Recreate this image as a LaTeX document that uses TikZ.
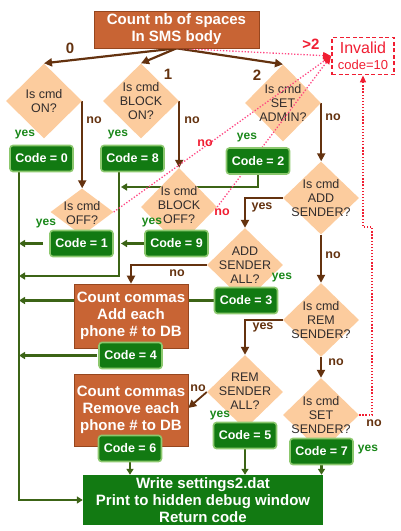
\documentclass[tikz,border=0pt]{standalone}
\usepackage{fontspec}
\setmainfont{Liberation Sans}
\usetikzlibrary{shapes.geometric,arrows.meta}
\definecolor{procfill}{RGB}{200,100,52}
\definecolor{procedge}{RGB}{150,70,30}
\definecolor{diafill}{RGB}{252,204,158}
\definecolor{codefill}{RGB}{18,122,18}
\definecolor{codeedge}{RGB}{140,200,110}
\definecolor{brn}{RGB}{100,50,15}
\definecolor{grn}{RGB}{60,100,22}
\definecolor{yesgreen}{RGB}{25,135,25}
\definecolor{dgray}{RGB}{50,45,45}
\definecolor{invred}{RGB}{240,30,50}
\definecolor{pinkdot}{RGB}{255,70,130}
\pgfdeclarelayer{conn}
\pgfdeclarelayer{dots}
\pgfdeclarelayer{top}
\pgfsetlayers{conn,main,dots,top}
\begin{document}
\begin{tikzpicture}[x=1pt,y=-1pt,
  dia/.style={diamond, fill=diafill, draw=none, inner sep=0pt, minimum width=76pt, minimum height=75pt},
  dtext/.style={text=dgray, font=\fontsize{12.5}{14}\selectfont, align=center, inner sep=0pt},
  codebox/.style={rounded corners=3pt, fill=codefill, draw=codeedge, line width=1.6pt, text=white,
     font=\bfseries\fontsize{12.5}{14}\selectfont, minimum width=63pt, minimum height=26pt, inner sep=0pt},
  procbox/.style={fill=procfill, draw=procedge, line width=0.6pt, text=white,
     font=\bfseries\fontsize{15}{17}\selectfont, align=center, inner sep=0pt},
  endbox/.style={fill=codefill, draw=none, text=white,
     font=\bfseries\fontsize{15}{17}\selectfont, align=center, inner sep=0pt},
  brarrow/.style={draw=brn, line width=2.2pt, -{Triangle[length=8pt,width=8pt]}},
  grarrow/.style={draw=grn, line width=2.2pt, -{Triangle[length=6pt,width=7pt]}},
  pinkline/.style={draw=pinkdot, line width=1.3pt, dash pattern=on 1.3pt off 1.8pt,
     -{Triangle[length=8pt,width=7pt,color=invred]}},
  redline/.style={draw=invred, line width=1.3pt, dash pattern=on 1.3pt off 1.8pt,
     -{Triangle[length=7pt,width=6pt,color=invred]}},
  nolab/.style={text=brn, font=\bfseries\fontsize{12.5}{14}\selectfont, inner sep=0pt},
  rednolab/.style={text=invred, font=\bfseries\fontsize{12.5}{14}\selectfont, inner sep=0pt},
  yeslab/.style={text=yesgreen, font=\bfseries\fontsize{12}{14}\selectfont, inner sep=0pt},
  brylab/.style={text=brn, font=\bfseries\fontsize{12.5}{14}\selectfont, inner sep=0pt},
  numlab/.style={text=brn, font=\bfseries\fontsize{15}{17}\selectfont, inner sep=0pt}
]
\useasboundingbox (0,0) rectangle (400,531);

% ---------- diamonds ----------
\node[dia] (d0) at (44,101) {};
\node[dtext] (d0t) at (44,101) {Is cmd\\ON?};
\node[dia] (d8) at (141,101) {};
\node[dtext] (d8t) at (141,101) {Is cmd\\BLOCK\\ON?};
\node[dia, minimum height=77pt] (d2) at (283,103) {};
\node[dtext] (d2t) at (283,103) {Is cmd\\SET\\ADMIN?};
\node[dia, minimum width=63pt, minimum height=47pt] (d1) at (82,212) {};
\node[dtext] (d1t) at (82,213) {Is cmd\\OFF?};
\node[dia, minimum height=78pt] (d9) at (179,207) {};
\node[dtext] (d9t) at (179,205.5) {Is cmd\\BLOCK\\OFF?};
\node[dia, minimum height=73pt] (dAS) at (321,198) {};
\node[dtext] (dASt) at (321,198) {Is cmd\\ADD\\SENDER?};
\node[dia, minimum height=74pt] (dASA) at (245,265) {};
\node[dtext] (dASAt) at (245,265) {ADD\\SENDER\\ALL?};
\node[dia, minimum height=74pt] (dRS) at (321,320) {};
\node[dtext] (dRSt) at (321,320) {Is cmd\\REM\\SENDER?};
\node[dia, minimum height=74pt] (dRSA) at (245,392) {};
\node[dtext] (dRSAt) at (245,391) {REM\\SENDER\\ALL?};
\node[dia, minimum height=74pt] (dSS) at (321,415) {};
\node[dtext] (dSSt) at (321,415) {Is cmd\\SET\\SENDER?};

% ---------- boxes (top layer) ----------
\begin{pgfonlayer}{top}
\node[procbox, minimum width=165pt, minimum height=37pt] (title) at (176.5,29.5) {Count nb of spaces\\In SMS body};
\node[draw=invred, dash pattern=on 4pt off 2.5pt, line width=1.8pt, minimum width=62pt, minimum height=37pt,
      align=center, text=invred, inner sep=0pt, font=\fontsize{13}{15.5}\selectfont] (inv) at (363,56)
      {{\fontsize{16}{15.5}\selectfont Invalid}\\code=10};
\node[codebox] (c0) at (41.5,158.5) {Code = 0};
\node[codebox] (c8) at (132.5,158.5) {Code = 8};
\node[codebox] (c2) at (258,161) {Code = 2};
\node[codebox] (c1) at (81.5,243.5) {Code = 1};
\node[codebox] (c9) at (176.5,243.5) {Code = 9};
\node[procbox, minimum width=114pt, minimum height=64pt] (pAdd) at (131,316) {Count commas\\Add each\\phone \# to DB};
\node[codebox] (c3) at (246,300.5) {Code = 3};
\node[codebox] (c4) at (130.5,355.5) {Code = 4};
\node[procbox, minimum width=114pt, minimum height=72pt] (pRem) at (131,410) {Count commas\\Remove each\\phone \# to DB};
\node[codebox] (c6) at (130,448.5) {Code = 6};
\node[codebox] (c5) at (245,435.5) {Code = 5};
\node[codebox] (c7) at (321.5,451.5) {Code = 7};
\node[endbox, minimum width=240pt, minimum height=50pt] (bot) at (203,500) {Write settings2.dat\\Print to hidden debug window\\Return code};

% labels
\node[numlab] (l0) at (70,48) {0};
\node[numlab] (l1) at (168,74) {1};
\node[numlab] (l2) at (257,75) {2};
\node[text=invred, font=\bfseries\fontsize{15}{17}\selectfont, inner sep=0pt] (lgt) at (311,44) {>2};
\node[nolab] (n0) at (94,120) {no};
\node[nolab] (n8) at (192,120) {no};
\node[nolab] (n2) at (333,117) {no};
\node[nolab] (nAS) at (333,255) {no};
\node[nolab] (nRS) at (336,362) {no};
\node[nolab] (nASA) at (177,273) {no};
\node[nolab] (nRSA) at (198,388) {no};
\node[nolab] (nSS) at (374,423) {no};
\node[rednolab] (n1) at (205,143) {no};
\node[rednolab] (n9) at (222,212) {no};
\node[yeslab] (y0) at (25,135) {yes};
\node[yeslab] (y8) at (118,135) {yes};
\node[yeslab] (y2) at (247,138) {yes};
\node[yeslab] (y1) at (46,224) {yes};
\node[yeslab] (y9) at (152,223) {yes};
\node[yeslab] (yASA) at (282,278) {yes};
\node[yeslab] (yRSA) at (220,416) {yes};
\node[yeslab] (ySS) at (368,450) {yes};
\node[brylab] (yAS) at (262,207) {yes};
\node[brylab] (yRS) at (263,327) {yes};
\end{pgfonlayer}

% ---------- helper coordinates ----------
\coordinate (m0) at (19,172);
\coordinate (m8) at (119,172);
\coordinate (j8) at (19,276);
\coordinate (j2) at (121,187);
\coordinate (r1) at (372,227);
\coordinate (r2) at (363,227);

% ---------- connectors (bottom layer) ----------
\begin{pgfonlayer}{conn}
\draw[brarrow] (title.south) -- (d0.north);
\draw[brarrow] (title.south) -- (d8.north);
\draw[brarrow] (title.south) -- (d2.north);
\draw[brarrow] (d0.east) -- (d0.east |- d1.north);
\draw[brarrow] (d8.east) -- (d8.east |- d9.north);
\draw[brarrow] (d2.east) -- (d2.east |- dAS.north);
\draw[brarrow] (dAS.south) -- (dRS.north);
\draw[brarrow] (dRS.south) -- (dSS.north);
\draw[brarrow] (dAS.west) -| (dASA.north);
\draw[brarrow] (dRS.west) -| (dRSA.north);
\draw[brarrow] (dASA.west) -| (pAdd.north);
\draw[brarrow, line width=1.8pt] (dRSA.west) -- ([yshift=2pt]pRem.east);

\draw[grarrow] (m0) |- (bot.west);
\draw[grarrow] (m8) |- (j8);
\draw[grarrow] (c2.south) |- (j2);
\draw[grarrow] ([xshift=-6pt]c1.west) -- (c1.west -| m0);
\draw[grarrow] (c9.west) -- ([xshift=2pt]c9.west -| m8);
\draw[grarrow] (c3.west) -- (c3.west -| m0);
\draw[grarrow] ([xshift=-1pt]c4.west) -- (c4.west -| m0);
\draw[grarrow] (c6.south) -- (c6.south |- bot.north);
\draw[grarrow] (c5.south) -- (c5.south |- bot.north);
\draw[grarrow] (c7.south) -- (c7.south |- bot.north);
\end{pgfonlayer}

% ---------- invalid paths (above diamonds, below boxes) ----------
\begin{pgfonlayer}{dots}
\draw[pinkline] (title.south) -- (inv.west);
\draw[pinkline] (d1.east) -- (inv.west);
\draw[pinkline] (d9.east) -- (inv.west);
\draw[redline] (dSS.east) -| (r1) -- (r2) -- (inv.south);
\end{pgfonlayer}
\end{tikzpicture}
\end{document}
